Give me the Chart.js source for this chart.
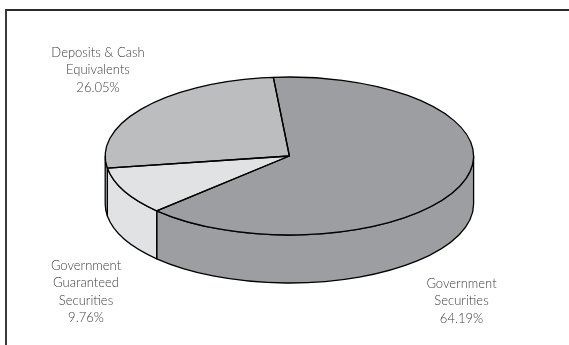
<!DOCTYPE html>
<html>
<head>
<meta charset="utf-8">
<style>
  html, body { margin: 0; padding: 0; background: #fff; overflow: hidden; }
  #wrap { position: relative; width: 569px; height: 345px; overflow: hidden; }
  #frame { position: absolute; left: 5px; top: 9px; width: 564px; height: 336px; border-left: 2px solid #3a3a3a; border-top: 2px solid #2a2a2a; box-sizing: border-box; }
  canvas { position: absolute; left: 0; top: 0; }
</style>
<script src="https://cdn.jsdelivr.net/npm/chart.js@4/dist/chart.umd.min.js"></script>
</head>
<body>
<div id="wrap">
  <div id="frame"></div>
  <canvas id="pie" width="569" height="345"></canvas>
</div>
<script>
const categories = ['Government Securities', 'Government Guaranteed Securities', 'Deposits & Cash Equivalents'];
const shares = [64.19, 9.76, 26.05];
const sliceColors = ['#9d9ea2', '#e1e2e4', '#bcbdbf'];
const labelLines = [
    ['Government', 'Securities'],
    ['Government', 'Guaranteed', 'Securities'],
    ['Deposits & Cash', 'Equivalents']
];
const labelAnchors = [[461.5, 288], [86, 270], [98, 57]];

// tilted disc on screen
const disc = { x: 289.4, y: 156, rx: 184.2, ry: 79, depth: 48 };

function tiltTransform(ctx, arc) {
    ctx.translate(disc.x, disc.y);
    ctx.scale(disc.rx / arc.outerRadius, disc.ry / arc.outerRadius);
    ctx.translate(-arc.x, -arc.y);
}

function rimPoint(angle) {
    return [disc.x + disc.rx * Math.cos(angle), disc.y + disc.ry * Math.sin(angle)];
}

// ellipse segment on the disc rim, optionally pushed down to the bottom edge
function rimPath(ctx, from, to, drop, ccw) {
    ctx.ellipse(disc.x, disc.y + drop, disc.rx, disc.ry, 0, from, to, ccw);
}

const tiltedPie = {
    id: 'tiltedPie',
    // side wall goes under the top face
    beforeDatasetDraw(chart) {
        const ctx = chart.ctx;
        const arcs = chart.getDatasetMeta(0).data;
        ctx.save();
        ctx.lineWidth = 1.3;
        ctx.strokeStyle = '#000';
        ctx.lineJoin = 'round';
        arcs.forEach((arc, i) => {
            const a = arc.startAngle, b = arc.endAngle;
            // the front half of the rim is angle 0..PI, also look one turn on
            [0, 2 * Math.PI, -2 * Math.PI].forEach(turn => {
                const from = Math.max(a + turn, 0);
                const to = Math.min(b + turn, Math.PI);
                if (to <= from) return;
                const start = rimPoint(from), end = rimPoint(to);
                ctx.beginPath();
                ctx.moveTo(start[0], start[1]);
                rimPath(ctx, from, to, 0, false);
                ctx.lineTo(end[0], end[1] + disc.depth);
                rimPath(ctx, to, from, disc.depth, true);
                ctx.closePath();
                ctx.fillStyle = sliceColors[i];
                ctx.fill();
                ctx.stroke();
            });
        });
        ctx.restore();
        ctx.save();
        tiltTransform(ctx, arcs[0]);
    },
    afterDatasetDraw(chart) {
        const ctx = chart.ctx;
        const arcs = chart.getDatasetMeta(0).data;
        ctx.restore();
        // outlines stroked untransformed so the pen stays even all round
        ctx.save();
        ctx.lineWidth = 1.3;
        ctx.strokeStyle = '#000';
        ctx.lineJoin = 'round';
        arcs.forEach(arc => {
            ctx.beginPath();
            ctx.moveTo(disc.x, disc.y);
            const p = rimPoint(arc.startAngle);
            ctx.lineTo(p[0], p[1]);
            rimPath(ctx, arc.startAngle, arc.endAngle, 0, false);
            ctx.closePath();
            ctx.stroke();
        });
        ctx.restore();
    },
    afterDraw(chart) {
        const ctx = chart.ctx;
        ctx.save();
        ctx.font = '300 13px Lato, "Open Sans", sans-serif';
        ctx.fillStyle = '#3f4042';
        ctx.textAlign = 'center';
        ctx.textBaseline = 'alphabetic';
        labelLines.forEach((lines, i) => {
            const all = lines.concat(shares[i].toFixed(2) + '%');
            all.forEach((line, n) => {
                ctx.fillText(line, labelAnchors[i][0], labelAnchors[i][1] + n * 17.4);
            });
        });
        ctx.restore();
    }
};

new Chart(document.getElementById('pie'), {
    type: 'pie',
    data: {
        labels: categories,
        datasets: [{
            data: shares,
            backgroundColor: sliceColors,
            borderWidth: 0,
            clip: false
        }]
    },
    options: {
        responsive: false,
        animation: false,
        rotation: -5,
        plugins: { legend: { display: false }, tooltip: { enabled: false } }
    },
    plugins: [tiltedPie]
});
</script>
</body>
</html>
